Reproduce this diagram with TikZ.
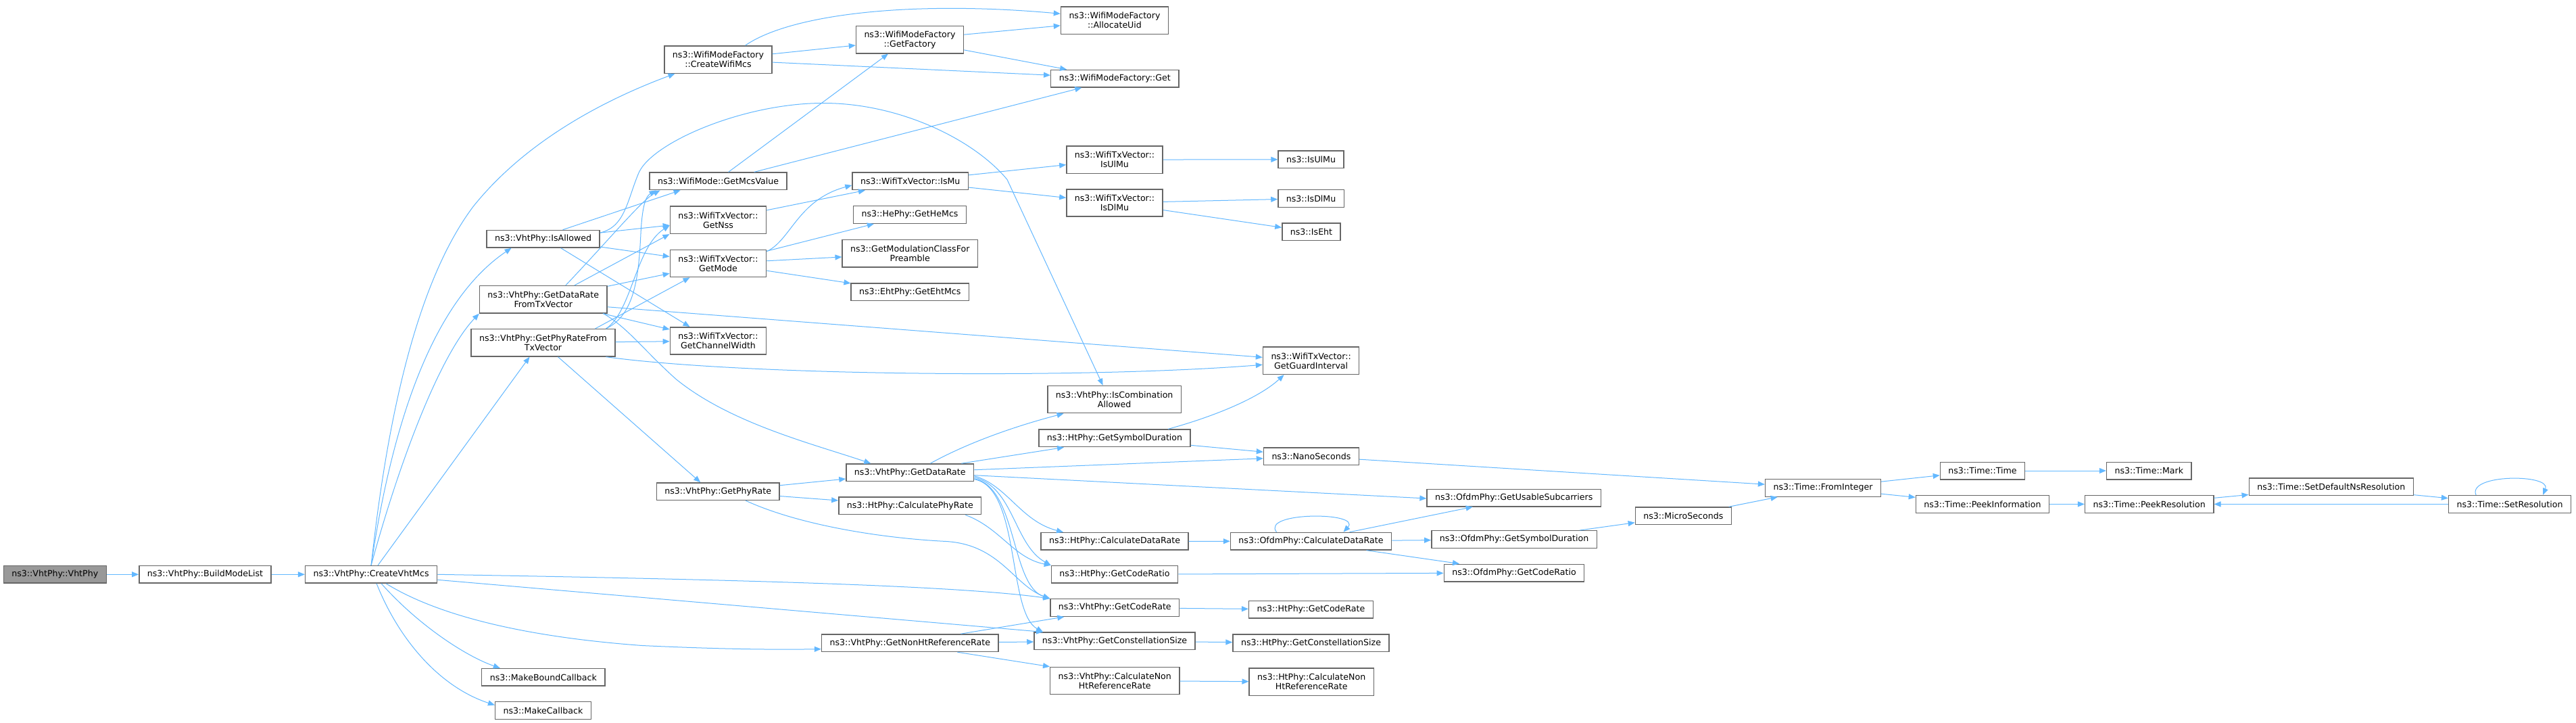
\documentclass[tikz,border=0pt]{standalone}
\usepackage{fontspec}
\setmainfont{DejaVu Sans}
\usepackage{tikz}
\usetikzlibrary{arrows.meta}
\definecolor{edgeblue}{HTML}{63B8FF}
\definecolor{boxgray}{HTML}{666666}
\definecolor{rootgray}{HTML}{999999}

\begin{document}
\begin{tikzpicture}[x=1pt, y=-1pt, >={Triangle[length=10pt,width=8pt]},
    fn/.style={draw=boxgray, line width=1.4pt, fill=white, inner xsep=12pt, inner ysep=2pt,
      minimum height=25.6pt, align=center, font=\fontsize{12.6}{14}\selectfont},
    fn2/.style={fn, minimum height=40.3pt},
    root/.style={fn, fill=rootgray},
    call/.style={->, draw=edgeblue, line width=1pt}]

    \fill[white] (0,0) rectangle (3811,1063);

    \node[root] (vht) at (81.3,843.8) {ns3::VhtPhy::VhtPhy};
    \node[fn] (bml) at (303.5,843.8) {ns3::VhtPhy::BuildModeList};
    \node[fn] (cvm) at (549.1,843.8) {ns3::VhtPhy::CreateVhtMcs};

    \node[fn] (isal) at (803.6,347.7) {ns3::VhtPhy::IsAllowed};
    \node[fn2] (drtx) at (803.8,437.3) {ns3::VhtPhy::GetDataRate\\FromTxVector};
    \node[fn2] (prtx) at (803.5,501.3) {ns3::VhtPhy::GetPhyRateFrom\\TxVector};
    \node[fn] (mbc) at (803.8,995.8) {ns3::MakeBoundCallback};
    \node[fn] (mcb) at (803.5,1045) {ns3::MakeCallback};

    \node[fn2] (cwm) at (1062.5,82.6) {ns3::WifiModeFactory\\::CreateWifiMcs};
    \node[fn] (mcsv) at (1062.6,262.4) {ns3::WifiMode::GetMcsValue};
    \node[fn2] (nss) at (1062.5,319.8) {ns3::WifiTxVector::\\GetNss};
    \node[fn2] (mode) at (1062.5,384) {ns3::WifiTxVector::\\GetMode};
    \node[fn2] (cw) at (1062.5,498.5) {ns3::WifiTxVector::\\GetChannelWidth};
    \node[fn] (vpr) at (1062.2,721.2) {ns3::VhtPhy::GetPhyRate};

    \node[fn2] (gfac) at (1346,53.2) {ns3::WifiModeFactory\\::GetFactory};
    \node[fn] (ismu) at (1346.7,262.4) {ns3::WifiTxVector::IsMu};
    \node[fn] (hemcs) at (1346,312) {ns3::HePhy::GetHeMcs};
    \node[fn2] (modcl) at (1346.3,369.2) {ns3::GetModulationClassFor\\Preamble};
    \node[fn] (ehtmcs) at (1346.3,426.4) {ns3::EhtPhy::GetEhtMcs};
    \node[fn] (vdr) at (1346.3,693.2) {ns3::VhtPhy::GetDataRate};
    \node[fn] (hcpr) at (1346.3,742.4) {ns3::HtPhy::CalculatePhyRate};
    \node[fn] (nhrr) at (1346.3,945.2) {ns3::VhtPhy::GetNonHtReferenceRate};

    \node[fn2] (auid) at (1649,24.8) {ns3::WifiModeFactory\\::AllocateUid};
    \node[fn] (wget) at (1649.3,110.7) {ns3::WifiModeFactory::Get};
    \node[fn2] (tulmu) at (1649,230.6) {ns3::WifiTxVector::\\IsUlMu};
    \node[fn2] (tdlmu) at (1649,294.5) {ns3::WifiTxVector::\\IsDlMu};
    \node[fn2] (comb) at (1648.6,585.1) {ns3::VhtPhy::IsCombination\\Allowed};
    \node[fn] (hsym) at (1649,642.4) {ns3::HtPhy::GetSymbolDuration};
    \node[fn] (hcdr) at (1649,794.8) {ns3::HtPhy::CalculateDataRate};
    \node[fn] (hcrt) at (1649,843.8) {ns3::HtPhy::GetCodeRatio};
    \node[fn] (vcr) at (1649.3,893) {ns3::VhtPhy::GetCodeRate};
    \node[fn] (vcs) at (1649,942.4) {ns3::VhtPhy::GetConstellationSize};
    \node[fn2] (vcnh) at (1649.3,1001) {ns3::VhtPhy::CalculateNon\\HtReferenceRate};

    \node[fn] (ulmu) at (1939.6,230.3) {ns3::IsUlMu};
    \node[fn] (dlmu) at (1939.6,288) {ns3::IsDlMu};
    \node[fn] (iseht) at (1940,337.3) {ns3::IsEht};
    \node[fn2] (gi) at (1939.6,527.8) {ns3::WifiTxVector::\\GetGuardInterval};
    \node[fn] (nano) at (1939.9,669.3) {ns3::NanoSeconds};
    \node[fn] (ocdr) at (1939.5,794.7) {ns3::OfdmPhy::CalculateDataRate};
    \node[fn] (hcr) at (1939.5,895.7) {ns3::HtPhy::GetCodeRate};
    \node[fn] (hcs) at (1939.5,945.2) {ns3::HtPhy::GetConstellationSize};
    \node[fn2] (hcnh) at (1940.2,1002.7) {ns3::HtPhy::CalculateNon\\HtReferenceRate};

    \node[fn] (ogus) at (2239.7,730.5) {ns3::OfdmPhy::GetUsableSubcarriers};
    \node[fn] (osym) at (2240,792) {ns3::OfdmPhy::GetSymbolDuration};
    \node[fn] (ocrt) at (2240,841.5) {ns3::OfdmPhy::GetCodeRatio};
    \node[fn] (micro) at (2490.3,757.3) {ns3::MicroSeconds};
    \node[fn] (fint) at (2697,715.9) {ns3::Time::FromInteger};
    \node[fn] (ttime) at (2933,690.5) {ns3::Time::Time};
    \node[fn] (tpi) at (2933,739.9) {ns3::Time::PeekInformation};
    \node[fn] (tmark) at (3179.3,690.5) {ns3::Time::Mark};
    \node[fn] (tpr) at (3179.7,739.9) {ns3::Time::PeekResolution};
    \node[fn] (tsdn) at (3448.7,714.4) {ns3::Time::SetDefaultNsResolution};
    \node[fn] (tsr) at (3713,739.9) {ns3::Time::SetResolution};

    \foreach \a/\b in {vht/bml, bml/cvm, isal/nss, isal/mode, drtx/mode, drtx/cw, prtx/cw,
        cwm/gfac, gfac/auid, gfac/wget, nss/ismu, mode/hemcs, mode/modcl, mode/ehtmcs,
        ismu/tulmu, ismu/tdlmu, tulmu/ulmu, tdlmu/dlmu, tdlmu/iseht, vpr/vdr, vpr/hcpr,
        hsym/nano, hcdr/ocdr, ocdr/osym, hcrt/ocrt, vcr/hcr, vcs/hcs, vcnh/hcnh, nhrr/vcs,
        nano/fint, osym/micro, micro/fint, fint/ttime, fint/tpi, ttime/tmark, tpi/tpr,
        tpr/tsdn, tsdn/tsr, tsr/tpr}
        \draw[call] (\a) -- (\b);

    \draw[call] (cvm.north) .. controls (570,640) and (610,420) .. (700,300)
        .. controls (780,200) and (900,140) .. ([xshift=-64pt]cwm.south);
    \draw[call] (cvm.north) .. controls (580,620) and (640,440) .. ([xshift=-47pt]isal.south);
    \draw[call] (cvm.north) .. controls (590,680) and (650,520) .. (drtx.south west);
    \draw[call] ([xshift=10pt]cvm.north) -- ([xshift=-20pt]prtx.south);
    \draw[call] (cvm.east) .. controls (1000,850) and (1400,858) .. (vcr.north west);
    \draw[call] ([yshift=-8pt]cvm.east) -- ([xshift=-106pt]vcs.north);
    \draw[call] ([xshift=22pt]cvm.south) .. controls (640,900) and (760,935) .. (950,949)
        .. controls (1080,955) and (1150,955) .. ([yshift=-9pt]nhrr.west);
    \draw[call] ([xshift=15pt]cvm.south) .. controls (620,920) and (690,965) .. ([xshift=-64pt]mbc.north);
    \draw[call] ([xshift=8pt]cvm.south) .. controls (590,940) and (650,1010) .. ([yshift=8pt]mcb.west);

    \draw[call] ([xshift=29pt]isal.north) -- ([xshift=-56pt]mcsv.south);
    \draw[call] ([xshift=26pt]isal.south) -- ([xshift=-42pt]cw.north);
    \draw[call] ([yshift=9pt]isal.east) .. controls (925,330) and (928,290) .. (945,250)
        .. controls (965,205) and (1100,147) .. (1218,147)
        .. controls (1330,147) and (1440,200) .. (1490,260) -- ([xshift=-17pt]comb.north);

    \draw[call] ([xshift=33pt]drtx.north) .. controls (900,350) and (950,290) .. ([xshift=-86pt]mcsv.south);
    \draw[call] ([xshift=46pt]drtx.north) -- ([xshift=-72pt]nss.south);
    \draw[call] ([yshift=-11pt]drtx.east) -- ([yshift=5pt]gi.west);
    \draw[call] ([xshift=89pt]drtx.south) .. controls (930,480) and (950,510) .. (1000,555)
        .. controls (1080,620) and (1200,650) .. ([xshift=-58pt]vdr.north);

    \draw[call] ([xshift=93pt]prtx.north) .. controls (940,460) and (945,400) .. (948,340)
        .. controls (950,300) and (955,285) .. ([xshift=-92pt]mcsv.south);
    \draw[call] ([xshift=93pt]prtx.north) .. controls (935,455) and (940,360) .. ([yshift=-8pt]nss.west);
    \draw[call] ([xshift=77pt]prtx.north) -- ([xshift=-42pt]mode.south);
    \draw[call] ([xshift=93pt]prtx.south) .. controls (1100,550) and (1600,555) .. ([yshift=-6pt]gi.west);
    \draw[call] ([xshift=22pt]prtx.south) -- ([xshift=-26pt]vpr.north);

    \draw[call] ([xshift=40pt]cwm.north) .. controls (1170,15) and (1350,-5) .. ([yshift=10pt]auid.west);
    \draw[call] ([yshift=-4pt]cwm.east) -- ([yshift=5pt]wget.west);
    \draw[call] ([xshift=15pt]mcsv.north) -- ([xshift=-32pt]gfac.south);
    \draw[call] ([xshift=53pt]mcsv.north) -- ([xshift=-49pt]wget.south);
    \draw[call] ([yshift=-3pt]mode.north east) .. controls (1170,350) and (1180,290) .. ([yshift=-6pt]ismu.west);

    \draw[call] ([xshift=41pt]vpr.south) .. controls (1180,770) and (1300,790) .. (1400,795)
        .. controls (1480,800) and (1500,860) .. (vcr.north west);
    \draw[call] ([xshift=82pt]hcpr.south) .. controls (1480,775) and (1500,820) .. (hcrt.north west);

    \draw[call] ([xshift=30pt]vdr.north) .. controls (1430,650) and (1500,625) .. ([xshift=-75pt]comb.south);
    \draw[call] ([xshift=76pt]vdr.north) -- ([xshift=-75pt]hsym.south);
    \draw[call] ([yshift=4pt]vdr.east) -- ([yshift=-3pt]nano.west);
    \draw[call] ([yshift=-4pt]vdr.east) -- ([yshift=-1pt]ogus.west);
    \draw[call] ([yshift=-5pt]vdr.east) .. controls (1490,712) and (1510,765) .. ([xshift=-76pt]hcdr.north);
    \draw[call] ([yshift=-7pt]vdr.east) .. controls (1500,715) and (1500,800) .. (hcrt.north west);
    \draw[call] ([yshift=-9pt]vdr.east) .. controls (1505,715) and (1495,860) .. (vcr.north west);
    \draw[call] ([yshift=-10pt]vdr.east) .. controls (1510,715) and (1490,900) .. ([xshift=-106pt]vcs.north);

    \draw[call] ([xshift=79pt]hsym.north) .. controls (1790,612) and (1860,585) .. ([xshift=-40pt]gi.south);
    \draw[call] ([xshift=75pt]nhrr.north) -- ([xshift=-75pt]vcr.south);
    \draw[call] ([xshift=70pt]nhrr.south) -- (vcnh.north west);

    \draw[call] ([xshift=-51pt]ocdr.north) .. controls (1865,751) and (2015,751) .. ([xshift=48pt]ocdr.north);
    \draw[call] ([xshift=57pt]ocdr.north) -- ([xshift=-61pt]ogus.south);
    \draw[call] ([xshift=82pt]ocdr.south) -- ([xshift=-81pt]ocrt.north);
    \draw[call] ([xshift=-50pt]tsr.north) .. controls (3650,695) and (3775,695) .. ([xshift=49pt]tsr.north);

\end{tikzpicture}
\end{document}
